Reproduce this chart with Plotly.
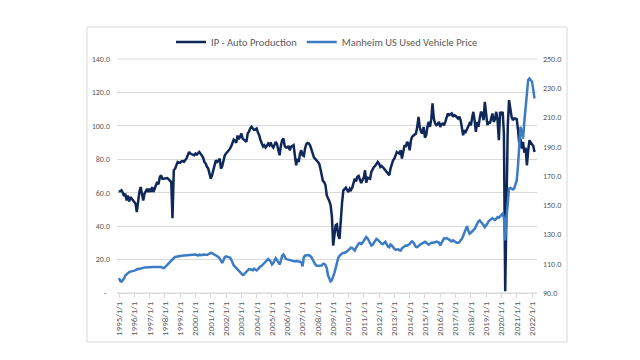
import pandas as pd
import plotly.graph_objects as go

# ---- data (monthly) ----
ip_auto_production = [
    60.5, 61, 61.5, 60, 58, 59.4, 55.4, 58.4, 54.8, 57.4, 56.4, 55,            # 1995
    54, 53.4, 48.4, 55, 60.4, 63.4, 58.4, 55.4, 59.4, 61.4, 62.4, 60.4,        # 1996
    62.4, 60.4, 63.4, 60.4, 62.4, 64.4, 66.4, 65, 69.4, 70.4, 68.4, 68.4,      # 1997
    68.4, 68.4, 68.8, 68, 67.4, 66.4, 44.8, 73.4, 74.4, 76, 78.4, 78,          # 1998
    78, 78.8, 79, 78.5, 79.4, 80.5, 82.4, 84.4, 83.4, 83, 82.8, 82.4,          # 1999
    83.4, 82.8, 83.5, 84.4, 83.4, 82, 81, 78.4, 77.4, 75.5, 74.4, 71.4,        # 2000
    68.4, 70.5, 74, 76.4, 79.4, 78.4, 79, 80.4, 74.4, 76, 80, 82.4,            # 2001
    83.4, 84.2, 85, 86.2, 87.6, 90, 91.7, 91, 89.8, 94.2, 92, 93.5,            # 2002
    95.4, 92.4, 91.8, 91, 90.4, 95.4, 96.5, 98.5, 99.4, 98.4, 97.6, 97.8,      # 2003
    98.4, 96, 94.4, 91.5, 89.5, 87.6, 88.4, 87, 88, 89.4, 88.4, 90,            # 2004
    88, 87, 88.6, 90.4, 89, 85, 82.4, 88, 91.5, 92.4, 88, 87,                  # 2005
    87, 88, 85.4, 87.4, 88, 88.4, 82.4, 76.4, 80.4, 78.4, 83.4, 85.4,          # 2006
    82.5, 82, 86.4, 89, 89.8, 89.5, 88.2, 86, 82.5, 81, 80.2, 79.5,            # 2007
    78.6, 77.5, 74.5, 69.4, 67, 66.4, 64.5, 58.4, 56.8, 55, 52.5, 46,          # 2008
    28.4, 34, 40.5, 41, 34.4, 32.4, 45.5, 54, 61.4, 62.2, 63, 61.5,            # 2009
    60.4, 62.4, 61.6, 63, 65.5, 68.4, 66.8, 69.5, 70, 68.2, 65.8, 67.5,        # 2010
    69, 73.4, 66, 69, 68.8, 68.4, 72.4, 74.4, 75.4, 76, 77.4, 78.4,            # 2011
    77.4, 75.4, 76, 75.4, 74.4, 73.4, 72.4, 71.4, 70.4, 74.4, 77.4, 79.4,      # 2012
    80.4, 82.4, 84.4, 83.8, 83.4, 85.4, 80.4, 84.4, 88.4, 87.4, 90.4, 89.4,    # 2013
    85.4, 91.4, 93.4, 94.2, 94.8, 95.4, 99.4, 105.4, 99, 96.4, 95.4, 99.4,     # 2014
    93, 94.4, 99.4, 102.4, 99.4, 104, 113.4, 104.4, 101.4, 100.4, 101, 102.4,  # 2015
    99.4, 101, 101.4, 100.4, 102.4, 105.4, 107.4, 106.4, 107, 107.4, 105.4, 106.4,  # 2016
    106, 105, 104.4, 105.4, 103.5, 99, 94.4, 97.4, 96.4, 98, 99.4, 101.4,      # 2017
    100.4, 104, 108.4, 103.4, 96.4, 102.4, 99.4, 104.4, 108.4, 107.4, 103.4, 114.4,  # 2018
    105.4, 100.4, 102.4, 101.4, 104.4, 107.4, 102.4, 104, 108.4, 103.4, 91.4, 108.4,  # 2019
    106.4, 108.4, 95, 1, 50, 100, 115.4, 109.4, 105.4, 103.4, 104.4, 104.4,    # 2020
    104, 97.4, 90, 92.4, 86.4, 90.4, 84, 87, 76.4, 85, 91.4, 90,               # 2021
    89, 88, 84.4,                                                              # 2022
]

manheim_used_vehicle_price = [
    100.3, 98.2, 97.8, 98.5, 99.8, 101.9, 102.8, 103.8, 104.3, 104.6, 105, 105.3,     # 1995
    105.3, 105.6, 106.3, 106.5, 106.4, 106.8, 107, 107.2, 107.4, 107.5, 107.6, 107.8,  # 1996
    107.8, 107.6, 107.8, 107.8, 107.7, 107.8, 107.9, 107.8, 108.2, 107.8, 107.3, 107,  # 1997
    107.6, 108.6, 109.6, 110.6, 111.3, 112.3, 113.3, 113.9, 114.6, 114.9, 114.9, 115,  # 1998
    115.3, 115.4, 115.5, 115.6, 115.6, 115.5, 115.6, 115.7, 115.8, 116, 116.2, 116.5,  # 1999
    116.3, 116, 115.6, 116.2, 116, 115.8, 116.3, 116.4, 116.2, 116, 116.4, 117,        # 2000
    117.4, 117.2, 116.8, 116.3, 115.7, 115, 114.6, 113.5, 112, 110.6, 112.5, 114.5,    # 2001
    115.1, 115, 114.8, 114.3, 113, 110.5, 109, 108, 107, 105.7, 104.8, 104,           # 2002
    103, 102.4, 102.6, 103.6, 104.5, 105.4, 106.4, 106.2, 105.6, 105.6, 106.6, 106,    # 2003
    105.4, 106.3, 107.5, 108.2, 108.6, 109.5, 110.3, 111.3, 112.2, 113.3, 112.5, 111.5,  # 2004
    109.5, 110.5, 112.2, 113.8, 112.5, 111, 109.5, 112, 115.5, 116.3, 114.5, 113.3,    # 2005
    113, 112.8, 112.6, 112.2, 111.7, 111.5, 111.5, 111.8, 111.8, 111.6, 111.4, 111,    # 2006
    108.3, 114.5, 115.6, 115.6, 116, 115.8, 115.4, 114.4, 112.5, 111, 109.5, 108.7,    # 2007
    108.7, 108.4, 108.5, 108.8, 109.8, 109.9, 109.2, 107, 101.9, 99.2, 98, 98.8,       # 2008
    100.9, 104, 107, 111.5, 114, 115.5, 116.4, 117, 117.4, 117.4, 117.8, 118.5,        # 2009
    119.2, 120.2, 121, 120.8, 119.8, 119, 120.8, 122.6, 123.8, 124.2, 123.5, 124.3,    # 2010
    125.5, 127.5, 128.3, 127.5, 125.5, 123.5, 122.5, 123, 124.5, 126.3, 127, 126.5,    # 2011
    125.5, 124.7, 123.8, 123.5, 124.5, 125, 123.5, 121.8, 121.3, 123.2, 122.5, 121,    # 2012
    120.2, 119.5, 119.6, 120, 119.2, 119, 120.5, 121.5, 122, 122.5, 122.3, 123,        # 2013
    123.5, 124.7, 125.3, 124.5, 123, 121.5, 121.3, 122.2, 122.9, 123.6, 124, 124.5,    # 2014
    125, 124.5, 123.5, 123, 123.6, 124.3, 124.3, 124.3, 124.7, 125.2, 125, 124.5,      # 2015
    122.5, 124, 126, 127.3, 127.2, 127.5, 127, 126.3, 126, 125.3, 126, 125.3,          # 2016
    125, 124.3, 124.3, 124.7, 126, 127, 129, 131.6, 134, 135.7, 132.7, 130.5,          # 2017
    131.2, 132, 132.7, 133.8, 135.5, 137.5, 139, 139.6, 138.7, 137.6, 136.4, 135,      # 2018
    136, 137.5, 139, 140, 140.7, 141.2, 140.5, 140, 140.7, 141.9, 141.5, 142.3,        # 2019
    143, 144.2, 141.5, 125.9, 141, 154.5, 161.3, 161.8, 161.3, 160.8, 161.5, 164,      # 2020
    167, 177.3, 190, 203.6, 200.2, 195.6, 207, 216, 229, 235.6, 236.7, 235.5,          # 2021
    234.5, 229, 223,                                                                   # 2022
]

start_month = "1995-01-01"
tick_years = list(range(1995, 2023))
tick_labels = [f"{y}/1/1" for y in tick_years]
left_ticks = [0, 20, 40, 60, 80, 100, 120, 140]
left_labels = ["-\u00a0\u00a0"] + [f"{v:.1f}" for v in left_ticks[1:]]
right_ticks = [90, 110, 130, 150, 170, 190, 210, 230, 250]
right_labels = [f"{v:.1f}" for v in right_ticks]

ip_dates = pd.date_range(start_month, periods=len(ip_auto_production), freq="MS")
mh_dates = pd.date_range(start_month, periods=len(manheim_used_vehicle_price), freq="MS")

FONT = "Calibri, Carlito, Lato, 'Open Sans', sans-serif"
GRAY_TXT = "#595959"
BORDER = "#D9D9D9"
GRID = "#D9D9D9"

fig = go.Figure()
fig.add_trace(go.Scatter(
    x=ip_dates, y=ip_auto_production, name="IP - Auto Production",
    mode="lines", line=dict(color="#0F2859", width=2.5), yaxis="y",
))
fig.add_trace(go.Scatter(
    x=mh_dates, y=manheim_used_vehicle_price, name="Manheim US Used Vehicle Price",
    mode="lines", line=dict(color="#3C7CC4", width=2.5), yaxis="y2",
))

# chart-area border plus the top gridline and bottom axis line at the plot edges
edge_shapes = [
    dict(type="rect", xref="paper", yref="paper",
         x0=-0.0714, x1=1.0714, y0=-0.2094, y1=1.1368,
         line=dict(color=BORDER, width=1), fillcolor="rgba(0,0,0,0)"),
    dict(type="line", xref="paper", yref="paper", x0=0, x1=1, y0=1, y1=1,
         line=dict(color=GRID, width=1), layer="below"),
    dict(type="line", xref="paper", yref="paper", x0=0, x1=1, y0=0, y1=0,
         line=dict(color=GRID, width=1), layer="below"),
]

# page body has an 8px margin, so the figure is sized 624x344 and offset by 8px
fig.update_layout(
    width=624, height=344,
    margin=dict(l=109, r=95, t=51, b=59, pad=0),
    paper_bgcolor="white", plot_bgcolor="white",
    font=dict(family=FONT, color=GRAY_TXT),
    showlegend=True,
    legend=dict(
        orientation="h", x=0.5, xanchor="center", y=1.0726, yanchor="middle",
        font=dict(size=10.5, color=GRAY_TXT, family=FONT),
        bgcolor="rgba(0,0,0,0)", itemwidth=30,
    ),
    xaxis=dict(
        type="date", range=["1994-11-14", "2022-04-30"],
        tickvals=[f"{y}-01-01" for y in tick_years], ticktext=tick_labels,
        tickangle=-90, tickfont=dict(size=9, color=GRAY_TXT),
        showgrid=False, zeroline=False,
        showline=True, linecolor=GRID, linewidth=1,
        ticks="outside", ticklen=4, tickcolor=GRID, tickwidth=1,
    ),
    yaxis=dict(
        range=[0, 140], tickvals=left_ticks, ticktext=left_labels,
        tickfont=dict(size=8, color=GRAY_TXT),
        showgrid=True, gridcolor=GRID, gridwidth=1,
        zeroline=False, showline=False, ticks="", ticklabelstandoff=6,
    ),
    yaxis2=dict(
        range=[90, 250], tickvals=right_ticks, ticktext=right_labels,
        overlaying="y", side="right",
        tickfont=dict(size=8, color=GRAY_TXT),
        showgrid=False, zeroline=False, showline=False, ticks="", ticklabelstandoff=5,
    ),
    shapes=edge_shapes,
)

fig.write_html("out.html")
